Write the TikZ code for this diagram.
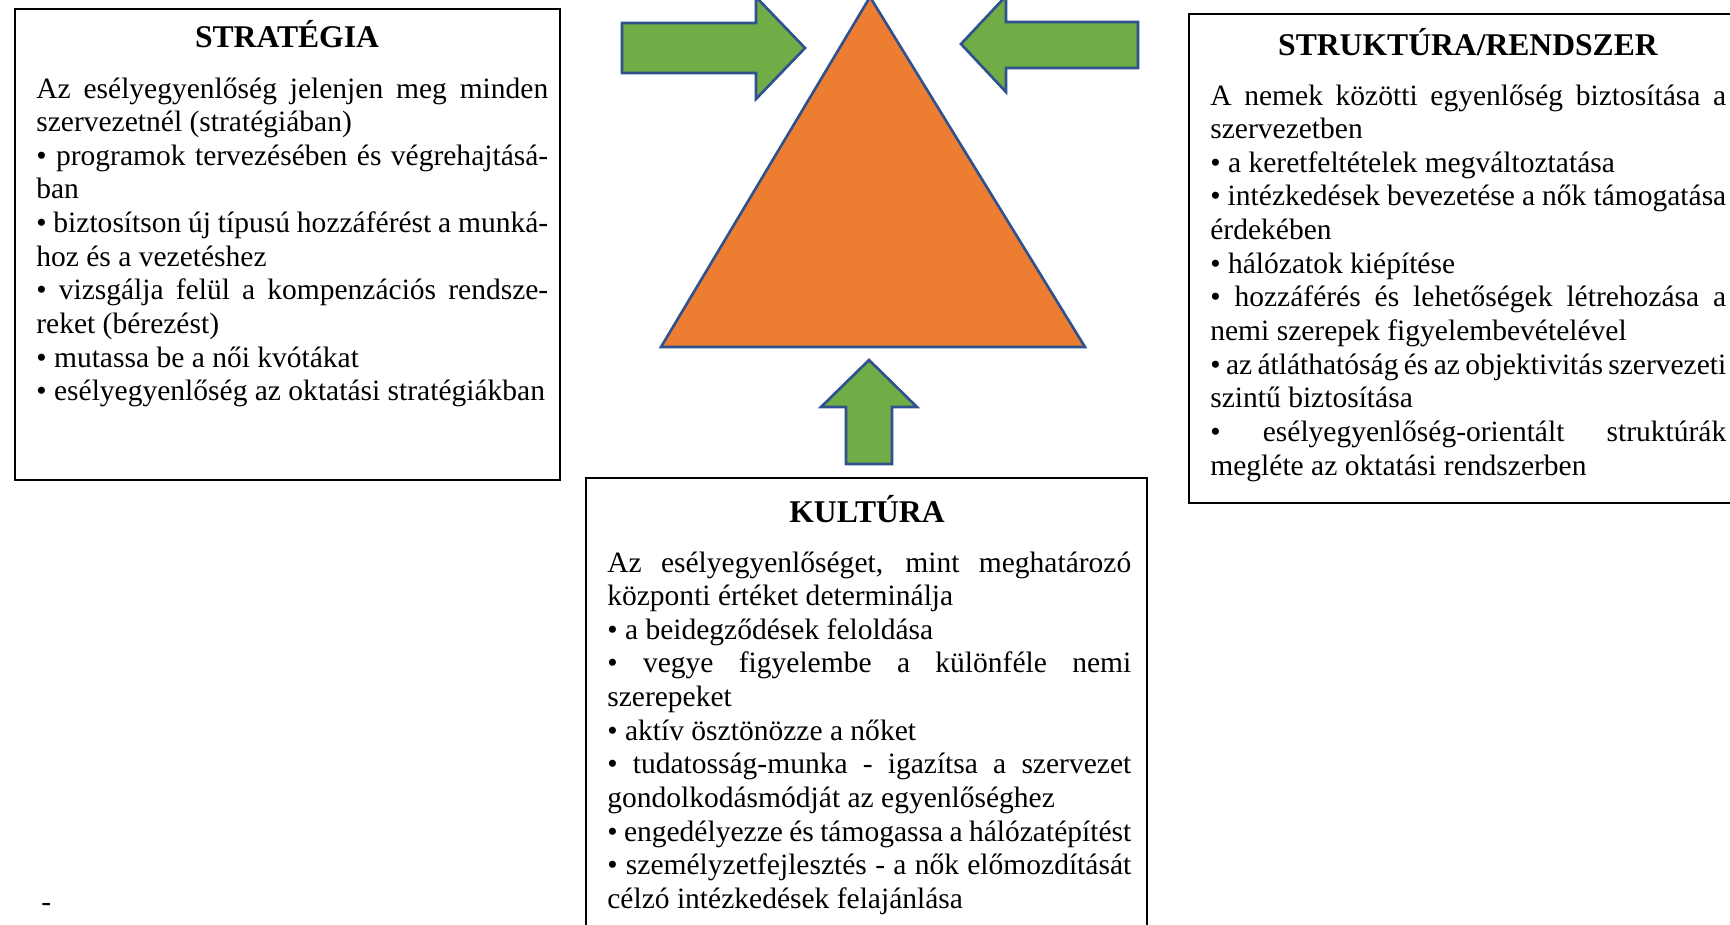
\documentclass[tikz,border=0pt]{standalone}
\usepackage{fontspec}
\setmainfont{Liberation Serif}
\usetikzlibrary{positioning}
\definecolor{triorange}{HTML}{ED7D31}
\definecolor{arrowgreen}{HTML}{70AD47}
\definecolor{edgeblue}{HTML}{2F528F}
\tikzset{
x=0.02cm, y=-0.02cm, % one unit is one pixel of the page, y runs downwards
panel/.style={draw=black, line width=0.95pt, inner sep=0pt, anchor=north west}, % the frame round each text
heading/.style={font=\bfseries\fontsize{18pt}{21pt}\selectfont, inner sep=0pt, anchor=base},
bodytext/.style={font=\fontsize{16.8pt}{19.15pt}\selectfont, align=justify, inner sep=0pt, anchor=base west,
  execute at begin node={\tolerance=10000\hbadness=10000\hyphenpenalty=10000\exhyphenpenalty=10000}},
blockarrow/.style={fill=arrowgreen, draw=edgeblue, line width=1.5pt}, % the green arrows
pyramid/.style={fill=triorange, draw=edgeblue, line width=1.5pt},
}

\begin{document}
\begin{tikzpicture}
  \useasboundingbox (0,0) rectangle (1730,924);

  % the triangle and the three arrows pointing at it
  \draw[pyramid] (870,-3) -- (1085,347) -- (661,347) -- cycle;
  \draw[blockarrow] (622,23) -- (756,23) -- (756,-3) -- (805,48) -- (756,99) -- (756,73) -- (622,73) -- cycle;
  \draw[blockarrow] (1138,22) -- (1006,22) -- (1006,-4) -- (961,44) -- (1006,92) -- (1006,68) -- (1138,68) -- cycle;
  \draw[blockarrow] (846,464) -- (846,407) -- (821,407) -- (869,360) -- (917,407) -- (892,407) -- (892,464) -- cycle;

  % left box
  \node[panel, minimum width=10.9cm, minimum height=9.42cm] (strategy) at (14,8) {};
  \node[heading] (strategyhead) at (287,47) {STRATÉGIA};
  \node[bodytext, text width=10.24cm] (strategytext) at (36,98) {%
    Az esélyegyenlőség jelenjen meg minden\linebreak szervezetnél (stratégiában)\par
    • programok tervezésében és végrehajtásá-\linebreak ban\par
    • biztosítson új típusú hozzáférést a munká-\linebreak hoz és a vezetéshez\par
    • vizsgálja felül a kompenzációs rendsze-\linebreak reket (bérezést)\par
    • mutassa be a női kvótákat\par
    • esélyegyenlőség az oktatási stratégiákban};

  % right box
  \node[panel, minimum width=11.2cm, minimum height=9.78cm] (structure) at (1188,13) {};
  \node[heading] (structurehead) at (1468,55) {STRUKTÚRA/RENDSZER};
  \node[bodytext, text width=10.32cm] (structuretext) at (1210,105) {%
    A nemek közötti egyenlőség biztosítása a\linebreak szervezetben\par
    • a keretfeltételek megváltoztatása\par
    • intézkedések bevezetése a nők támogatása\linebreak érdekében\par
    • hálózatok kiépítése\par
    • hozzáférés és lehetőségek létrehozása a\linebreak nemi szerepek figyelembevételével\par
    • az átláthatóság és az objektivitás szervezeti\linebreak szintű biztosítása\par
    • esélyegyenlőség-orientált struktúrák\linebreak megléte az oktatási rendszerben};

  % bottom box
  \node[panel, minimum width=11.22cm, minimum height=10cm] (culture) at (585,477) {};
  \node[heading] (culturehead) at (867,522) {KULTÚRA};
  \node[bodytext, text width=10.48cm] (culturetext) at (607,572) {%
    Az esélyegyenlőséget, mint meghatározó\linebreak központi értéket determinálja\par
    • a beidegződések feloldása\par
    • vegye figyelembe a különféle nemi\linebreak szerepeket\par
    • aktív ösztönözze a nőket\par
    • tudatosság-munka - igazítsa a szervezet\linebreak gondolkodásmódját az egyenlőséghez\par
    • engedélyezze és támogassa a hálózatépítést\par
    • személyzetfejlesztés - a nők előmozdítását\linebreak célzó intézkedések felajánlása};

  \node[bodytext] (dash) at (41,911) {-};
\end{tikzpicture}
\end{document}
